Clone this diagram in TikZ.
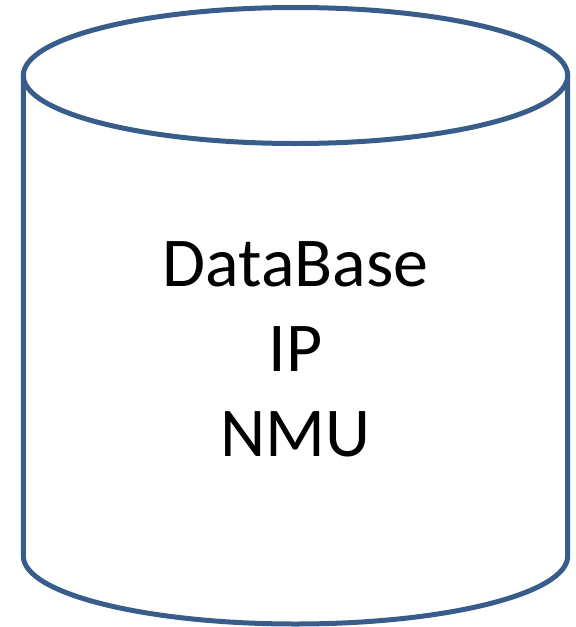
\documentclass[tikz,border=0pt]{standalone}
\usepackage{fontspec}
\setmainfont{Carlito}
\usepackage{tikz}
\definecolor{dbblue}{RGB}{56,93,138}

\begin{document}
\begin{tikzpicture}[x=1pt, y=-1pt]
    \tikzstyle{outline}=[draw=dbblue, line width=5pt, line join=round]
    \tikzstyle{label}=[align=center, inner sep=0pt, font=\fontsize{70}{85}\selectfont]
    \useasboundingbox (0,0) rectangle (576,627);
    % body of the cylinder
    \draw[outline] (23.3,75.5) -- (23.3,556) arc[start angle=180, end angle=0, x radius=272.2, y radius=68] -- (567.7,75.5);
    % lid
    \draw[outline] (295.5,75.5) ellipse[x radius=272.2, y radius=68];
    \node[label] (db) at (295.5,349.5) {DataBase\\IP\\NMU};
\end{tikzpicture}
\end{document}
